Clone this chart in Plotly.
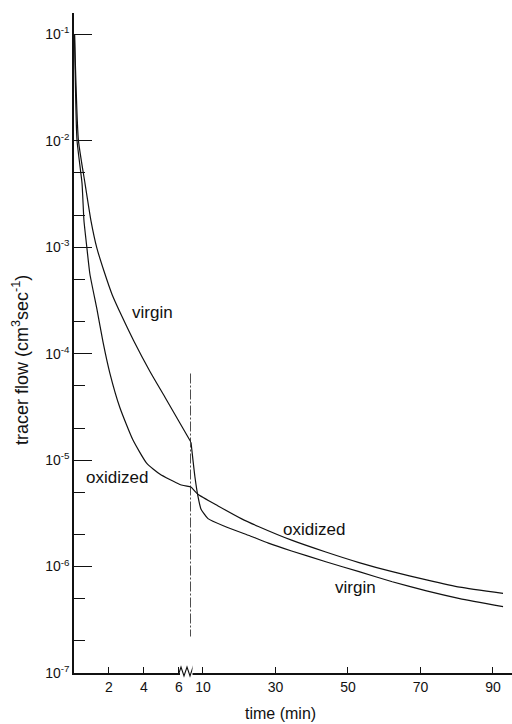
import math
import plotly.graph_objects as go

# ---------------- data ----------------
T_BREAK = 6.7  # min: time at which the flow was switched (dashed line)

virgin_t = [0.03, 0.25, 0.63, 0.97, 1.31, 1.72, 2.18, 2.75, 3.44, 4.35, 5.21,
            6.7,
            7.78, 8.61, 9.44, 11.39, 16.11, 22.5, 28.06, 34.44, 43.89, 53.06,
            62.22, 71.67, 80.83, 92.78]
virgin_flow = [1.0e-1, 1.02e-2, 3.98e-3, 1.78e-3, 9.8e-4, 5.94e-4, 3.6e-4,
               2.23e-4, 1.30e-4, 6.8e-5, 3.9e-5, 1.47e-5,
               6.98e-6, 4.58e-6, 3.48e-6, 2.82e-6, 2.38e-6, 1.97e-6, 1.66e-6,
               1.40e-6, 1.11e-6, 8.95e-7, 7.2e-7, 5.9e-7, 5.0e-7, 4.2e-7]

oxidized_t = [0.03, 0.17, 0.46, 0.57, 0.74, 0.91, 1.31, 1.66, 2.06, 2.63, 3.37,
              4.17, 4.91, 6.06, 6.7,
              8.61, 14.17, 20.56, 25.28, 34.44, 43.89, 53.06, 62.22, 71.67,
              80.83, 92.78]
oxidized_flow = [1.0e-1, 1.02e-2, 3.98e-3, 1.78e-3, 9.8e-4, 5.6e-4, 2.63e-4,
                 1.29e-4, 6.5e-5, 3.1e-5, 1.55e-5, 9.3e-6, 7.4e-6, 5.9e-6, 5.6e-6,
                 4.77e-6, 3.71e-6, 2.82e-6, 2.38e-6, 1.77e-6, 1.37e-6, 1.09e-6,
                 8.95e-7, 7.5e-7, 6.4e-7, 5.6e-7]

switch_flow = [6.5e-5, 2.2e-7]

seg1_ticks = [2, 4, 6]
seg2_ticks = [10, 30, 50, 70, 90]
y_major = [1e-1, 1e-2, 1e-3, 1e-4, 1e-5, 1e-6, 1e-7]
y_major_text = ["10<sup>-1</sup>", "10<sup>-2</sup>", "10<sup>-3</sup>",
                "10<sup>-4</sup>", "10<sup>-5</sup>", "10<sup>-6</sup>",
                "10<sup>-7</sup>"]
y_minor = [5e-3, 2e-3, 5e-4, 2e-4, 5e-5, 2e-5, 5e-6, 2e-6, 5e-7, 2e-7]

labels = [  # text, axis, t, flow
    ("virgin", "x", 4.47, 2.45e-4),
    ("oxidized", "x", 2.46, 6.9e-6),
    ("oxidized", "x2", 40.6, 2.24e-6),
    ("virgin", "x2", 52.2, 6.4e-7),
]

# ---------------- layout geometry ----------------
W, H = 512, 724
ML, MR, MT, MB = 74, 0, 13, 51
PW = W - ML - MR
PH = H - MT - MB
BREAK_PX = 117          # px from y axis where the scale changes
SEG1_SLOPE = BREAK_PX / T_BREAK
SEG2_SLOPE = 3.625      # px per minute in the compressed part

FONT = "Liberation Sans, Arial, Helvetica, sans-serif"
INK = "#111111"

seg1_end = T_BREAK + 1.5 / SEG1_SLOPE
seg1_dom_end = (BREAK_PX + 1.5) / PW
seg2_dom_start = BREAK_PX / PW
seg2_end = T_BREAK + (PW - BREAK_PX) / SEG2_SLOPE

fig = go.Figure()

LINE = dict(color=INK, width=1.2, shape="spline", smoothing=0.5)


def add_series(ts, vs):
    s1 = [(t, v) for t, v in zip(ts, vs) if t <= T_BREAK]
    s2 = [(t, v) for t, v in zip(ts, vs) if t >= T_BREAK]
    fig.add_trace(go.Scatter(x=[p[0] for p in s1], y=[p[1] for p in s1],
                             mode="lines", xaxis="x", yaxis="y", line=LINE,
                             showlegend=False, hoverinfo="skip"))
    fig.add_trace(go.Scatter(x=[p[0] for p in s2], y=[p[1] for p in s2],
                             mode="lines", xaxis="x2", yaxis="y", line=LINE,
                             showlegend=False, hoverinfo="skip"))


add_series(virgin_t, virgin_flow)
add_series(oxidized_t, oxidized_flow)

fig.add_trace(go.Scatter(x=[T_BREAK, T_BREAK], y=switch_flow, mode="lines",
                         xaxis="x", yaxis="y",
                         line=dict(color="#222222", width=1.6,
                                   dash="10px,2px,2px,2px"),
                         showlegend=False, hoverinfo="skip"))

for text, ax, t, v in labels:
    fig.add_annotation(text=text, x=t, y=math.log10(v), xref=ax, yref="y",
                       showarrow=False, font=dict(family=FONT, size=17, color=INK),
                       xanchor="center", yanchor="middle")

# axis titles
fig.add_annotation(text="tracer flow (cm<sup>3</sup>sec<sup>-1</sup>)",
                   xref="paper", yref="paper", x=(20 - ML) / PW,
                   y=(PH + MT - 360) / PH, textangle=-90, showarrow=False,
                   xanchor="center", yanchor="middle",
                   font=dict(family=FONT, size=18, color=INK))
fig.add_annotation(text="time (min)", xref="paper", yref="paper",
                   x=(280 - ML) / PW, y=-(713 - (MT + PH)) / PH,
                   showarrow=False, xanchor="center", yanchor="middle",
                   font=dict(family=FONT, size=16, color=INK))

# break symbol on the time axis
fig.add_shape(type="rect", xref="x", yref="paper", xsizemode="pixel",
              ysizemode="pixel", xanchor=T_BREAK, yanchor=0,
              x0=-11, x1=8, y0=-2, y1=2, fillcolor="white",
              line=dict(width=0), layer="above")
fig.add_shape(type="path", xref="x", yref="paper", xsizemode="pixel",
              ysizemode="pixel", xanchor=T_BREAK, yanchor=0,
              path="M -12,0 L -10,6 L -7,-3 L -4,6 L -1,-3 L 2,6 L 5,-3 L 7,0",
              line=dict(color=INK, width=1.1), layer="above")

axis_common = dict(showline=True, linecolor=INK, linewidth=1.5, ticks="inside",
                   tickcolor=INK, tickwidth=1.3, showgrid=False, zeroline=False,
                   tickfont=dict(family=FONT, size=14, color=INK))

fig.update_layout(
    width=W, height=H,
    margin=dict(l=ML, r=MR, t=MT, b=MB),
    paper_bgcolor="white", plot_bgcolor="white",
    showlegend=False,
    xaxis=dict(domain=[0, seg1_dom_end], range=[0, seg1_end], anchor="y",
               tickmode="array", tickvals=seg1_ticks, ticklen=6,
               **axis_common),
    xaxis2=dict(domain=[seg2_dom_start, 1], range=[T_BREAK, seg2_end],
                anchor="y", tickmode="array", tickvals=seg2_ticks, ticklen=6,
                **axis_common),
    yaxis=dict(type="log", range=[-7, -0.8], anchor="x",
               tickmode="array", tickvals=y_major, ticktext=y_major_text,
               ticklen=18,
               minor=dict(tickmode="array", tickvals=y_minor, ticks="inside",
                          ticklen=11, tickcolor=INK, tickwidth=1.3),
               **axis_common),
)

fig.write_html("out.html")
